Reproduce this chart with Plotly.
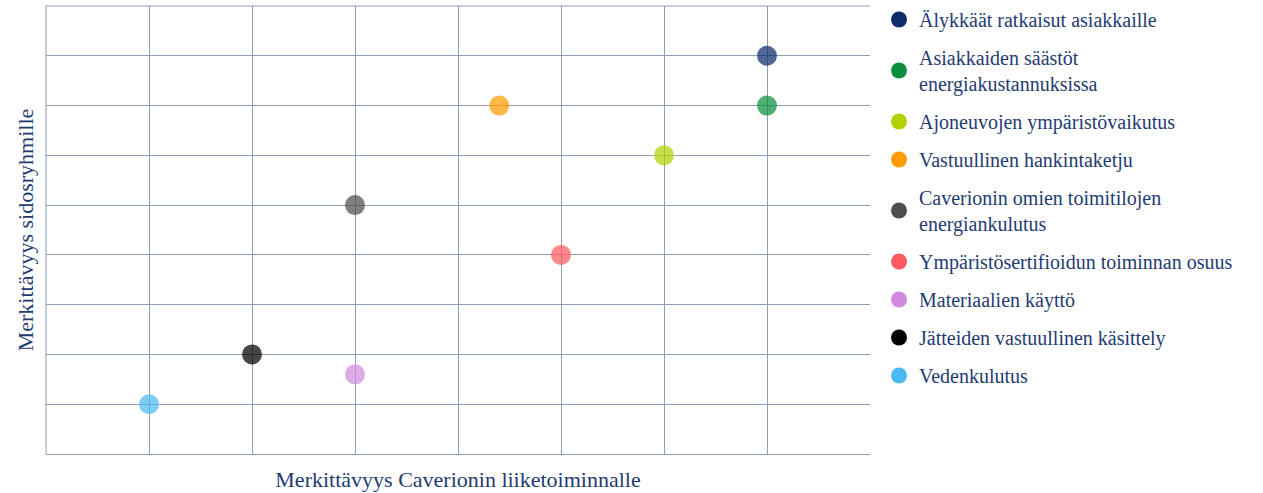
import plotly.graph_objects as go

names = [
    "Älykkäät ratkaisut asiakkaille",
    "Asiakkaiden säästöt<br>energiakustannuksissa",
    "Ajoneuvojen ympäristövaikutus",
    "Vastuullinen hankintaketju",
    "Caverionin omien toimitilojen<br>energiankulutus",
    "Ympäristösertifioidun toiminnan osuus",
    "Materiaalien käyttö",
    "Jätteiden vastuullinen käsittely",
    "Vedenkulutus",
]
business = [7, 7, 6, 4.4, 3, 5, 3, 2, 1]
stakeholders = [8, 7, 6, 7, 5, 4, 1.6, 2, 1]
colors = ["#0b2d6b", "#0a8f3d", "#b4d000", "#ff9d00", "#4d4d4d",
          "#ff5a5f", "#d18ae0", "#000000", "#4cbaf2"]

FONT = "Liberation Serif"
TXT = "#1f3b73"

fig = go.Figure()
for i, n in enumerate(names):
    fig.add_trace(go.Scatter(
        x=[business[i]], y=[stakeholders[i]], mode="markers",
        marker=dict(size=20, color=colors[i], opacity=0.72, line=dict(width=0)),
        showlegend=False, hoverinfo="skip"))
for i, n in enumerate(names):
    fig.add_trace(go.Scatter(
        x=[None], y=[None], mode="markers", name=n, legendgroup=f"g{i}",
        marker=dict(size=20, color=colors[i], line=dict(width=0))))

grid = "#8e9dba"
fig.update_layout(
    width=1263, height=493,
    margin=dict(l=46, r=393, t=6, b=39),
    paper_bgcolor="white", plot_bgcolor="white",
    font=dict(family=FONT, color=TXT, size=20),
    legend=dict(x=879 / 1263, y=1.0, xanchor="left", yanchor="top",
                xref="container", yref="container",
                font=dict(family=FONT, size=20, color=TXT), maxheight=493,
                tracegroupgap=9, itemsizing="trace"),
    xaxis=dict(range=[0, 8], dtick=1, tick0=0, showticklabels=False,
               showgrid=True, gridcolor=grid, gridwidth=1, zeroline=False,
               showline=True, linecolor=grid, linewidth=1, ticks="", fixedrange=True,
               title=dict(text="Merkittävyys Caverionin liiketoiminnalle",
                          font=dict(family=FONT, size=22, color=TXT), standoff=17)),
    yaxis=dict(range=[0, 9], dtick=1, tick0=0, showticklabels=False,
               showgrid=True, gridcolor=grid, gridwidth=1, zeroline=False,
               showline=False, ticks="", fixedrange=True,
               title=dict(text="Merkittävyys sidosryhmille",
                          font=dict(family=FONT, size=22, color=TXT), standoff=5)),
)
fig.add_shape(type="line", xref="paper", yref="paper", x0=0, x1=0, y0=0, y1=1,
              line=dict(color=grid, width=1))
fig.add_shape(type="line", xref="paper", yref="paper", x0=0, x1=1, y0=1, y1=1,
              line=dict(color=grid, width=1))

fig.write_html("out.html")
